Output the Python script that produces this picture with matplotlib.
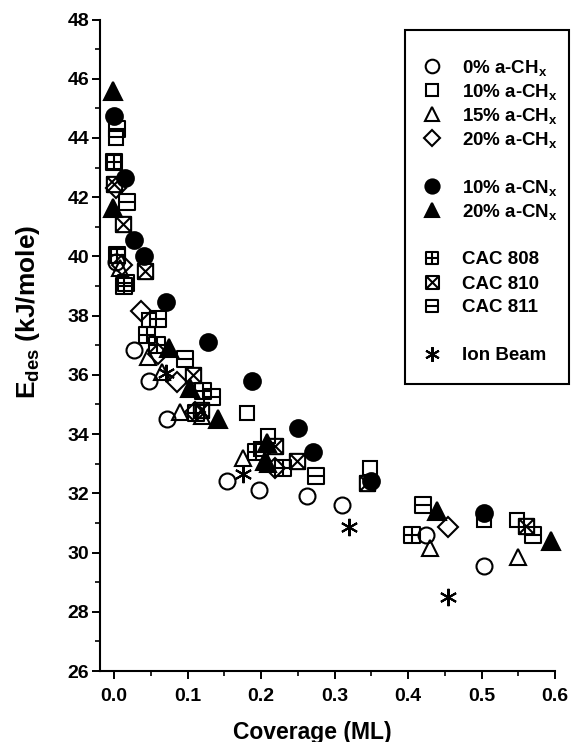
import matplotlib
matplotlib.use('Agg')
import matplotlib.pyplot as plt
import matplotlib.path as mpath
from matplotlib.lines import Line2D
from matplotlib.patches import Rectangle
from matplotlib.ticker import MultipleLocator

plt.rcParams['font.family'] = ['Liberation Sans', 'DejaVu Sans']
plt.rcParams['font.weight'] = 'bold'
plt.rcParams['mathtext.fontset'] = 'custom'
plt.rcParams['mathtext.rm'] = 'Liberation Sans:bold'
plt.rcParams['mathtext.it'] = 'Liberation Sans:bold'
plt.rcParams['mathtext.bf'] = 'Liberation Sans:bold'

# ---------------- data ----------------
ch0_x = [0.003, 0.027, 0.047, 0.072, 0.154, 0.197, 0.262, 0.310, 0.425, 0.503]
ch0_y = [39.8, 36.85, 35.8, 34.5, 32.4, 32.1, 31.9, 31.6, 30.6, 29.55]

ch10_x = [0.002, 0.0, 0.005, 0.047, 0.181, 0.200, 0.210, 0.348, 0.503, 0.548]
ch10_y = [44.0, 43.2, 40.0, 37.85, 34.7, 33.5, 33.95, 32.85, 31.1, 31.1]

ch15_x = [0.008, 0.046, 0.065, 0.090, 0.120, 0.176, 0.210, 0.430, 0.550]
ch15_y = [39.6, 36.6, 36.1, 34.75, 34.6, 33.2, 33.0, 30.15, 29.85]

ch20_x = [0.003, 0.010, 0.036, 0.060, 0.086, 0.110, 0.219, 0.455]
ch20_y = [42.3, 39.7, 38.15, 36.7, 35.75, 34.75, 32.85, 30.85]

cn10_x = [0.0, 0.015, 0.027, 0.040, 0.070, 0.128, 0.188, 0.250, 0.271, 0.350, 0.503]
cn10_y = [44.75, 42.65, 40.55, 40.0, 38.45, 37.1, 35.8, 34.2, 33.4, 32.4, 31.35]

cn20_x = [-0.001, -0.001, 0.075, 0.103, 0.141, 0.208, 0.205, 0.440, 0.595]
cn20_y = [45.6, 41.65, 36.9, 35.55, 34.5, 33.7, 33.1, 31.4, 30.4]

cac808_x = [0.0, 0.004, 0.014, 0.045, 0.058, 0.121, 0.112, 0.193, 0.230, 0.405]
cac808_y = [43.2, 40.05, 39.0, 37.35, 37.0, 35.45, 34.7, 33.4, 32.85, 30.6]

cac810_x = [0.0, 0.012, 0.042, 0.107, 0.118, 0.219, 0.249, 0.344, 0.560]
cac810_y = [42.45, 41.1, 39.5, 36.0, 34.8, 33.6, 33.1, 32.35, 30.9]

cac811_x = [0.004, 0.018, 0.016, 0.059, 0.097, 0.133, 0.275, 0.420, 0.570]
cac811_y = [44.3, 41.85, 39.1, 37.9, 36.55, 35.25, 32.6, 31.6, 30.6]

ion_x = [0.070, 0.176, 0.320, 0.455]
ion_y = [36.05, 32.65, 30.85, 28.5]

# ---------------- custom square markers ----------------
M, L, C = mpath.Path.MOVETO, mpath.Path.LINETO, mpath.Path.CLOSEPOLY
sq = [(-1, -1), (1, -1), (1, 1), (-1, 1), (-1, -1)]
sq_codes = [M, L, L, L, C]
plus_sq = mpath.Path(sq + [(0, -1), (0, 1), (-1, 0), (1, 0)],
                     sq_codes + [M, L, M, L])
cross_sq = mpath.Path(sq + [(-1, -1), (1, 1), (-1, 1), (1, -1)],
                      sq_codes + [M, L, M, L])
line_sq = mpath.Path(sq + [(-1, 0), (1, 0)], sq_codes + [M, L])

W, H = 572, 742
fig = plt.figure(figsize=(W / 100, H / 100), dpi=100)
ax = fig.add_axes([99.5 / W, (H - 671) / H, (555 - 99.5) / W, (671 - 19.5) / H])

ew = 1.5
series = [
    (ch0_x, ch0_y, dict(marker='o', ms=11.5, mfc='none'), '0% a-CH$_x$'),
    (ch10_x, ch10_y, dict(marker='s', ms=10.5, mfc='none'), '10% a-CH$_x$'),
    (ch15_x, ch15_y, dict(marker='^', ms=12, mfc='none'), '15% a-CH$_x$'),
    (ch20_x, ch20_y, dict(marker='D', ms=10, mfc='none'), '20% a-CH$_x$'),
    (cn10_x, cn10_y, dict(marker='o', ms=12, mfc='black'), '10% a-CN$_x$'),
    (cn20_x, cn20_y, dict(marker='^', ms=12.5, mfc='black'), '20% a-CN$_x$'),
    (cac808_x, cac808_y, dict(marker=plus_sq, ms=11, mfc='none'), 'CAC 808'),
    (cac810_x, cac810_y, dict(marker=cross_sq, ms=11, mfc='none'), 'CAC 810'),
    (cac811_x, cac811_y, dict(marker=line_sq, ms=11, mfc='none'), 'CAC 811'),
    (ion_x, ion_y, dict(marker=(6, 2, 0), ms=12.5), 'Ion Beam'),
]

handles = []
for x, y, style, lab in series:
    h, = ax.plot(x, y, linestyle='none', color='black', mec='black',
                 mew=ew, label=lab, clip_on=False, **style)
    handles.append(h)

ax.set_xlim(-0.02, 0.6)
ax.set_ylim(26, 48)
ax.xaxis.set_major_locator(MultipleLocator(0.1))
ax.xaxis.set_minor_locator(MultipleLocator(0.05))
ax.yaxis.set_major_locator(MultipleLocator(2))
ax.yaxis.set_minor_locator(MultipleLocator(1))
ax.set_xticks([0.0, 0.1, 0.2, 0.3, 0.4, 0.5, 0.6])
ax.set_xticklabels(['0.0', '0.1', '0.2', '0.3', '0.4', '0.5', '0.6'])
ax.tick_params(which='major', length=5.5, width=1.4, labelsize=14, direction='out')
ax.tick_params(axis='x', which='major', pad=7)
ax.tick_params(axis='y', which='major', pad=2)
ax.tick_params(which='minor', length=3.5, width=1.2, direction='out')
for s in ['top', 'right']:
    ax.spines[s].set_visible(False)
for s in ['left', 'bottom']:
    ax.spines[s].set_linewidth(1.5)

fig.text(312 / W, 1 - 732 / H, 'Coverage (ML)', fontsize=16.5, fontweight='bold',
         ha='center', va='center')
fig.text(28 / W, 1 - 312 / H, 'E$_{des}$ (kJ/mole)', fontsize=19, fontweight='bold',
         ha='center', va='center', rotation=90)

# ---------------- legend (boxed, grouped with blank rows) ----------------
fig.add_artist(Rectangle((405 / W, 1 - 384 / H), 164 / W, 354 / H,
                         transform=fig.transFigure, fill=False,
                         edgecolor='black', linewidth=1.5))
rows = [0, 1, 2, 3, 5, 6, 8, 9, 10, 12]
for h, r in zip(handles, rows):
    yy = 1 - (66 + 24 * r) / H
    fig.add_artist(Line2D([432 / W], [yy], transform=fig.transFigure,
                          linestyle='none', marker=h.get_marker(),
                          ms=h.get_markersize() * 0.85, mfc=h.get_markerfacecolor(),
                          mec='black', mew=ew))
    fig.text(462 / W, yy, h.get_label(), fontsize=13.5, fontweight='bold',
             ha='left', va='center_baseline')

fig.savefig('out.png', dpi=100)
